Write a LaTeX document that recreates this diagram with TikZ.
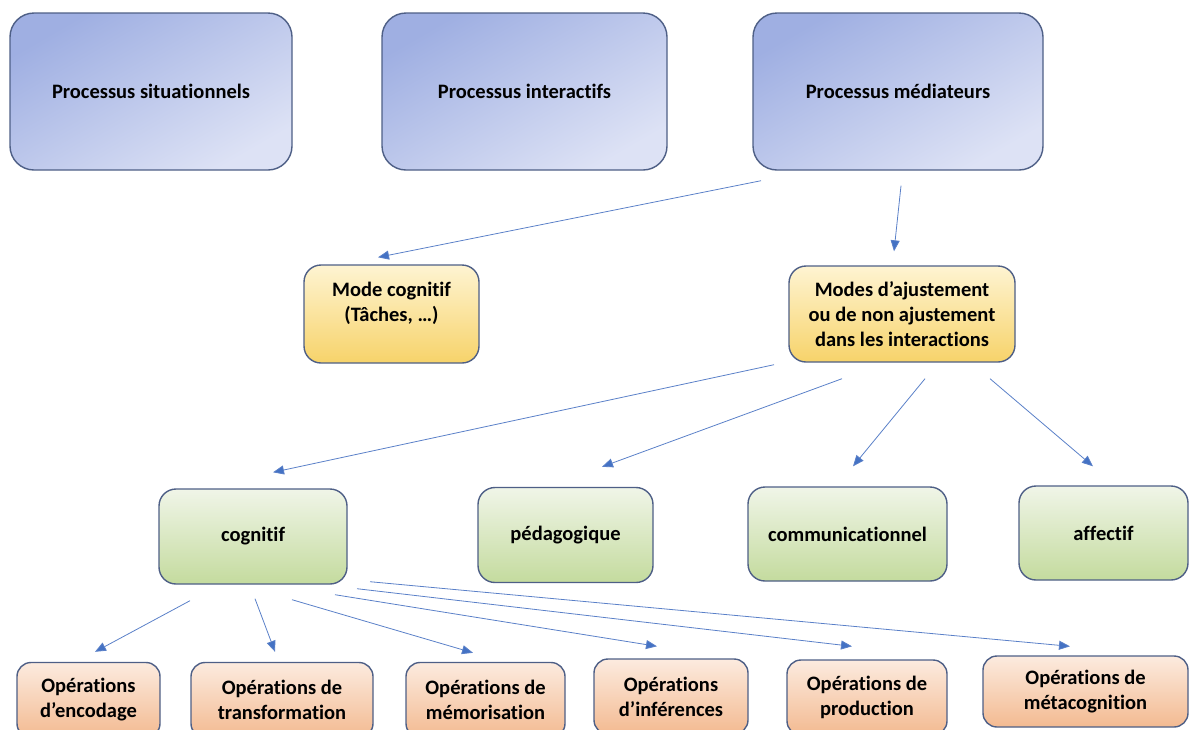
\documentclass[tikz,border=0pt]{standalone}
\usepackage{fontspec}
\setmainfont{Carlito}[Ligatures=NoCommon]
\usetikzlibrary{arrows.meta}

\definecolor{bordure}{HTML}{4E5F86}
\definecolor{trait}{HTML}{5A80C8}
\definecolor{pointe}{HTML}{4472C4}
\definecolor{bleuA}{HTML}{9FAFE2}
\definecolor{bleuB}{HTML}{DDE2F5}
\definecolor{jauneA}{HTML}{FEF4D2}
\definecolor{jauneB}{HTML}{F7D36A}
\definecolor{vertA}{HTML}{F0F5E8}
\definecolor{vertB}{HTML}{C4DB9E}
\definecolor{orangeA}{HTML}{FCEBDF}
\definecolor{orangeB}{HTML}{F3BA91}

\begin{document}
\begin{tikzpicture}[x=1pt,y=-1pt,
	boite/.style={draw=bordure,line width=1.4pt,align=center,inner sep=0pt,
		font=\bfseries\fontsize{20.5}{25}\selectfont},
	proc/.style={boite,rounded corners=24pt,minimum height=157pt,
		top color=bleuA,bottom color=bleuB,shading angle=30},
	mode/.style={boite,rounded corners=17pt,top color=jauneA,bottom color=jauneB},
	type/.style={boite,rounded corners=17pt,minimum height=95pt,top color=vertA,bottom color=vertB},
	oper/.style={boite,rounded corners=14pt,minimum height=75pt,top color=orangeA,bottom color=orangeB},
	fleche/.style={draw=trait,line width=0.8pt,arrows=-{Triangle[length=11pt,width=9pt,fill=pointe]}}]
	\useasboundingbox (0,0) rectangle (1190,729);
	\clip (0,0) rectangle (1190,729);
	% processus
	\node[proc,minimum width=282pt] (sit) at (151,91.5) {Processus situationnels};
	\node[proc,minimum width=285pt] (inter) at (524.5,91.5) {Processus interactifs};
	\node[proc,minimum width=290pt] (med) at (898,91.5) {Processus médiateurs};
	% modes
	\node[mode,minimum width=175pt,minimum height=98pt] (modecog) at (391.5,314) {Mode cognitif\\(Tâches, …)\\\mbox{}};
	\node[mode,minimum width=226pt,minimum height=96pt] (ajust) at (902,314) {Modes d’ajustement\\ou de non ajustement\\dans les interactions};
	% types d'ajustement
	\node[type,minimum width=188pt] (cog) at (253,536.5) {cognitif};
	\node[type,minimum width=175pt] (peda) at (565.5,535) {pédagogique};
	\node[type,minimum width=199pt,minimum height=94pt] (comm) at (847.5,534) {communicationnel};
	\node[type,minimum width=169pt,minimum height=94pt] (aff) at (1103.5,533) {affectif};
	% operations
	\node[oper,minimum width=143pt] (enc) at (88.5,700) {Opérations\\d’encodage};
	\node[oper,minimum width=182pt] (trans) at (282,700) {Opérations de\\transformation};
	\node[oper,minimum width=159pt] (mem) at (485.5,700) {Opérations de\\mémorisation};
	\node[oper,minimum width=154pt] (inf) at (671,696.5) {Opérations\\d’inférences};
	\node[oper,minimum width=160pt] (prod) at (867,697.5) {Opérations de\\production};
	\node[oper,minimum width=205pt,minimum height=71pt] (meta) at (1085.5,691.5) {Opérations de\\métacognition};
	% fleches
	\draw[fleche] ([xshift=-137pt,yshift=-10pt]med.south) -- ([xshift=-13.5pt,yshift=7pt]modecog.north);
	\draw[fleche] ([xshift=3pt,yshift=-15pt]med.south) -- ([xshift=-8pt,yshift=14pt]ajust.north);
	\draw[fleche] ([xshift=-128pt,yshift=-2pt]ajust.south) -- ([xshift=20pt,yshift=16pt]cog.north);
	\draw[fleche] ([xshift=-60pt,yshift=-16pt]ajust.south) -- ([xshift=36.5pt,yshift=20pt]peda.north);
	\draw[fleche] ([xshift=23pt,yshift=-16pt]ajust.south) -- ([xshift=5.5pt,yshift=20pt]comm.north);
	\draw[fleche] ([xshift=88pt,yshift=-16pt]ajust.south) -- ([xshift=-10.5pt,yshift=19pt]aff.north);
	\draw[fleche] ([xshift=-63pt,yshift=-16pt]cog.south) -- ([xshift=6.5pt,yshift=10pt]enc.north);
	\draw[fleche] ([xshift=2pt,yshift=-14pt]cog.south) -- ([xshift=-7pt,yshift=10pt]trans.north);
	\draw[fleche] ([xshift=39pt,yshift=-15pt]cog.south) -- ([xshift=-12.5pt,yshift=9pt]mem.north);
	\draw[fleche] ([xshift=82pt,yshift=-10pt]cog.south) -- ([xshift=-14pt,yshift=12pt]inf.north);
	\draw[fleche] ([xshift=104pt,yshift=-4pt]cog.south) -- ([xshift=-15pt,yshift=13pt]prod.north);
	\draw[fleche] ([xshift=117pt,yshift=3pt]cog.south) -- ([xshift=-15.5pt,yshift=9pt]meta.north);
\end{tikzpicture}
\end{document}
